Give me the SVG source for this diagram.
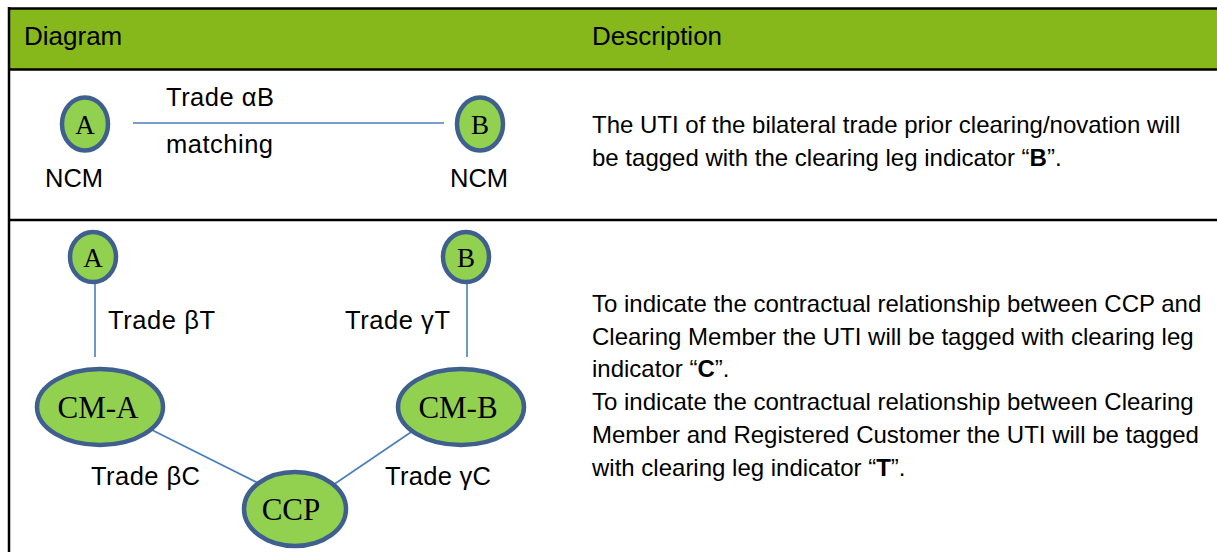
<svg xmlns="http://www.w3.org/2000/svg" width="1217" height="552" viewBox="0 0 1217 552">
<style>
.hdr{font-family:"Liberation Sans",Arial,sans-serif;font-size:26px;fill:#000}
.txt{font-family:"Liberation Sans",Arial,sans-serif;font-size:24px;fill:#000}
.lab{font-family:"Liberation Sans",Arial,sans-serif;font-size:25.5px;fill:#000}
.lbl{font-family:"Liberation Serif","Times New Roman",serif;fill:#000;text-anchor:middle}
.node{fill:#92D050;stroke:#3F5F8F;stroke-width:4.5}
.conn{stroke:#4A7EBB;stroke-width:1.6;fill:none}
.rule{stroke:#000;stroke-width:2.5}
</style>
<rect x="0" y="0" width="1217" height="552" fill="#fff"/>
<g id="table">
<rect x="9" y="8" width="1208" height="61" fill="#86B81B"/>
<line class="rule" x1="9" y1="8.5" x2="1217" y2="8.5"/>
<line class="rule" x1="9" y1="69.5" x2="1217" y2="69.5"/>
<line class="rule" x1="9" y1="220" x2="1217" y2="220"/>
<line class="rule" x1="9" y1="7" x2="9" y2="552"/>
<text class="hdr" x="24" y="45">Diagram</text>
<text class="hdr" x="592" y="45">Description</text>
</g>
<g id="connectors">
<line class="conn" x1="133" y1="123" x2="444" y2="123"/>
<line class="conn" x1="95" y1="284" x2="95" y2="357"/>
<line class="conn" x1="467" y1="284" x2="467" y2="357"/>
<line class="conn" x1="142" y1="425" x2="258" y2="483"/>
<line class="conn" x1="423" y1="424" x2="333" y2="485"/>
</g>
<g id="row1-A"><ellipse class="node" cx="85" cy="124" rx="23" ry="26.5"/><text class="lbl" x="85" y="134" font-size="27">A</text></g>
<g id="row1-B"><ellipse class="node" cx="480" cy="124" rx="23" ry="26.5"/><text class="lbl" x="480" y="134" font-size="27">B</text></g>
<g id="row1-labels">
<text class="lab" x="166" y="106" textLength="108">Trade αB</text>
<text class="lab" x="166" y="153" textLength="107">matching</text>
<text class="lab" x="45" y="187" textLength="58">NCM</text>
<text class="lab" x="450" y="187" textLength="58">NCM</text>
</g>
<g id="row2-A"><ellipse class="node" cx="93" cy="257" rx="23" ry="25"/><text class="lbl" x="93" y="267" font-size="27">A</text></g>
<g id="row2-B"><ellipse class="node" cx="466" cy="257" rx="23" ry="25"/><text class="lbl" x="466" y="267" font-size="27">B</text></g>
<g id="CM-A"><ellipse class="node" cx="100" cy="407" rx="63" ry="38"/><text class="lbl" x="98" y="418" font-size="31">CM-A</text></g>
<g id="CM-B"><ellipse class="node" cx="461" cy="407" rx="63" ry="38"/><text class="lbl" x="458" y="418" font-size="31">CM-B</text></g>
<g id="CCP"><ellipse class="node" cx="295" cy="509" rx="51" ry="37"/><text class="lbl" x="291" y="520" font-size="31">CCP</text></g>
<g id="row2-labels">
<text class="lab" x="108" y="329" textLength="107">Trade βT</text>
<text class="lab" x="345" y="329" textLength="105">Trade γT</text>
<text class="lab" x="91" y="485" textLength="109">Trade βC</text>
<text class="lab" x="385" y="485" textLength="106">Trade γC</text>
</g>
<g id="descriptions">
<text class="txt" x="592" y="133">The UTI of the bilateral trade prior clearing/novation will</text>
<text class="txt" x="592" y="166">be tagged with the clearing leg indicator “<tspan font-weight="bold">B</tspan>”.</text>
<text class="txt" x="592" y="312">To indicate the contractual relationship between CCP and</text>
<text class="txt" x="592" y="345">Clearing Member the UTI will be tagged with clearing leg</text>
<text class="txt" x="592" y="377">indicator “<tspan font-weight="bold">C</tspan>”.</text>
<text class="txt" x="592" y="410">To indicate the contractual relationship between Clearing</text>
<text class="txt" x="592" y="443">Member and Registered Customer the UTI will be tagged</text>
<text class="txt" x="592" y="476">with clearing leg indicator “<tspan font-weight="bold">T</tspan>”.</text>
</g>
</svg>
